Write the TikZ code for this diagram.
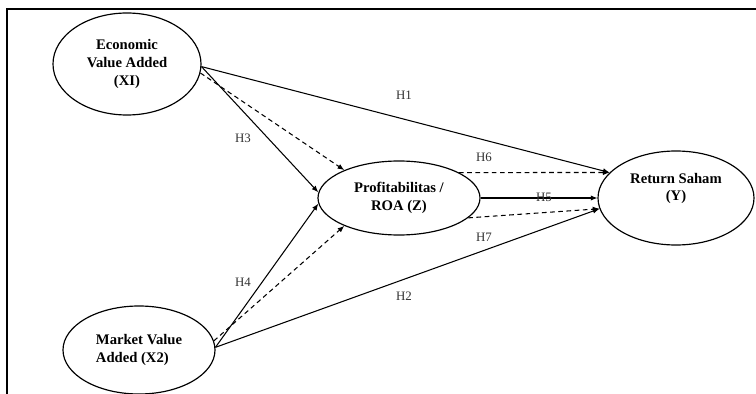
\documentclass[tikz,border=0pt]{standalone}
\usepackage{fontspec}
\setmainfont{Liberation Serif}
\usepackage{tikz}
\usetikzlibrary{positioning,arrows.meta,shapes.geometric}
\tikzset{
latent/.style={
draw,
ellipse,
line width=1pt,
inner sep=0pt,
align=center,
font=\bfseries\fontsize{12.5}{15}\selectfont
},
hyp/.style={
font=\fontsize{11}{13}\selectfont,
text=black!80
},
arrow/.style={
-{Latex[length=2mm,width=1.6mm]},
line width=0.9pt
},
dasharrow/.style={
arrow,
dash pattern=on 4pt off 3pt
}
}

\begin{document}
\begin{tikzpicture}[x=0.03cm,y=-0.03cm]
\useasboundingbox (0,0) rectangle (756,394);
\draw[line width=2pt](7,394)--(7,9)--(756,9);

\node[latent,minimum width=4.44cm,minimum height=3.06cm](eva) at (127,64){Economic\\Value Added\\(XI)};
\node[latent,minimum width=4.86cm,minimum height=2.22cm](roa) at (399,198){Profitabilitas /\\ROA (Z)};
\node[latent,minimum width=4.68cm,minimum height=2.82cm](ret) at (676,198){Return Saham\\(Y)\\[4pt]};
\node[latent,minimum width=4.56cm,minimum height=2.64cm,align=left](mva) at (139,350){Market Value\\Added (X2)};

\foreach \x/\y in {eva.-2/ret.159,eva.-2/roa.176,mva.2/roa.184,mva.2/ret.188,roa.east/ret.west}
\draw[arrow](\x)--(\y);
\foreach \x/\y in {eva.-7/roa.153,mva.7/roa.207,roa.23/ret.159,roa.-16/ret.188}
\draw[dasharrow](\x)--(\y);

\node[hyp](h1) at (404,95){H1};
\node[hyp](h2) at (404,296){H2};
\node[hyp](h3) at (243,138){H3};
\node[hyp](h4) at (243,282){H4};
\node[hyp](h5) at (544,197){H5};
\node[hyp](h6) at (484,157){H6};
\node[hyp](h7) at (484,237){H7};
\end{tikzpicture}
\end{document}
